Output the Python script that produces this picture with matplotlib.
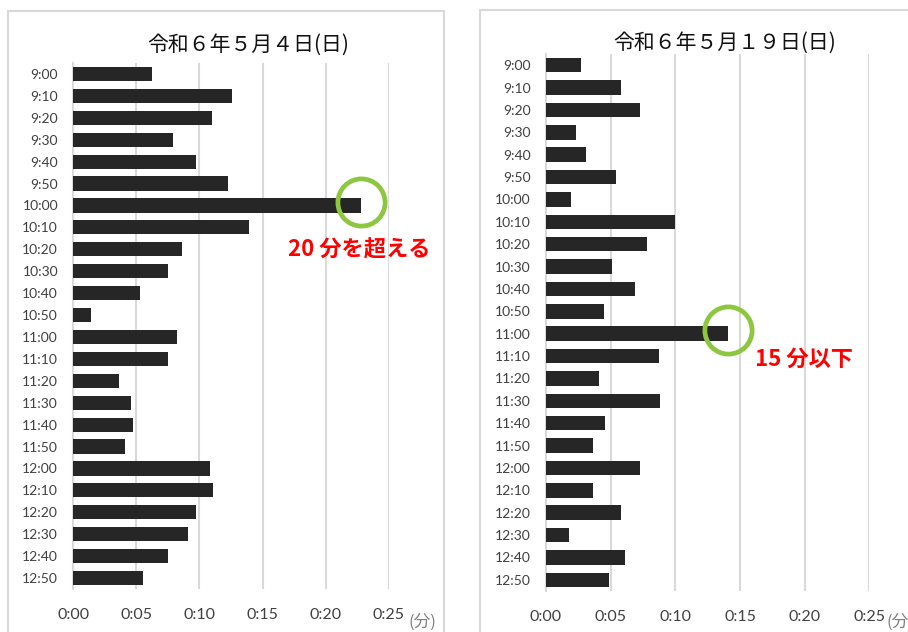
import matplotlib
matplotlib.use("Agg")
import matplotlib.pyplot as plt
from matplotlib.patches import Rectangle

plt.rcParams['font.family'] = ['Noto Sans CJK JP', 'DejaVu Sans']

times = ["9:00", "9:10", "9:20", "9:30", "9:40", "9:50",
         "10:00", "10:10", "10:20", "10:30", "10:40", "10:50",
         "11:00", "11:10", "11:20", "11:30", "11:40", "11:50",
         "12:00", "12:10", "12:20", "12:30", "12:40", "12:50"]

# waiting time in minutes
may4 = [6.2, 12.6, 11.0, 7.9, 9.7, 12.3,
        22.8, 13.9, 8.6, 7.5, 5.3, 1.4,
        8.2, 7.5, 3.6, 4.6, 4.7, 4.1,
        10.8, 11.1, 9.7, 9.1, 7.5, 5.5]
may19 = [2.7, 5.8, 7.3, 2.3, 3.1, 5.4,
         1.9, 10.0, 7.8, 5.1, 6.9, 4.5,
         14.1, 8.7, 4.1, 8.8, 4.6, 3.6,
         7.3, 3.6, 5.8, 1.8, 6.1, 4.9]

xticks = [0, 5, 10, 15, 20, 25]
xticklabels = ["0:00", "0:05", "0:10", "0:15", "0:20", "0:25"]

titles = ["令和６年５月４日(日)", "令和６年５月１９日(日)"]
notes = ["20 分を超える", "15 分以下"]
highlight = [6, 12]  # index of highlighted bar

W, H = 908, 632
fig = plt.figure(figsize=(W / 100, H / 100), dpi=100)
fig.patch.set_facecolor("white")

def px(x0, y0, x1, y1):
    return [x0 / W, 1 - y1 / H, (x1 - x0) / W, (y1 - y0) / H]

# panel frames
for (fx0, fy0, fx1, fy1) in [(8, 11, 444, 660), (480, 10, 940, 660)]:
    fig.add_artist(Rectangle((fx0 / W, 1 - fy1 / H), (fx1 - fx0) / W, (fy1 - fy0) / H,
                             transform=fig.transFigure, fill=False,
                             edgecolor="#d9d9d9", lw=1.5))

panels = [
    dict(rect=px(73.3, 63, 388.7, 589), data=may4, title_xy=(248, 45),
         note_xy=(288, 250), unit_xy=(409, 622)),
    dict(rect=px(546, 54, 869.3, 591), data=may19, title_xy=(725, 43),
         note_xy=(755, 359), unit_xy=(886, 622)),
]

for i, p in enumerate(panels):
    ax = fig.add_axes(p["rect"])
    y = list(range(len(times)))
    ax.barh(y, p["data"], height=0.65, color="#262626", zorder=3)
    ax.set_xlim(0, 25)
    ax.set_ylim(len(times) - 0.5, -0.5)
    ax.set_xticks(xticks)
    ax.set_xticklabels(xticklabels, family=['Lato', 'DejaVu Sans'], fontsize=11.5, color="#404040")
    ax.set_yticks(y)
    ax.set_yticklabels(times, family=['Lato', 'DejaVu Sans'], fontsize=10, color="#404040")
    ax.tick_params(axis='x', length=0, pad=14)
    ax.tick_params(axis='y', length=0, pad=11)
    ax.grid(axis='x', color="#d9d9d9", lw=1.5, zorder=0)
    for s in ["top", "right", "bottom"]:
        ax.spines[s].set_visible(False)
    ax.spines["left"].set_color("#d9d9d9")
    ax.spines["left"].set_linewidth(1.5)
    ax.spines["left"].set_zorder(0)
    ax.patch.set_alpha(0)

    h = highlight[i]
    ax.plot([p["data"][h]], [h - 0.15], marker="o", markersize=34, markerfacecolor="none",
            markeredgecolor="#8DC63F", markeredgewidth=3.4, clip_on=False, zorder=5)

    tx, ty = p["title_xy"]
    fig.text(tx / W, 1 - ty / H, titles[i], ha="center", va="center", fontsize=15, color="#111111")
    nx, ny = p["note_xy"]
    fig.text(nx / W, 1 - ny / H, notes[i], ha="left", va="center", fontsize=16,
             color="#ff0000", fontweight="bold",
             family=['Noto Sans CJK JP', 'DejaVu Sans'])
    ux, uy = p["unit_xy"]
    fig.text(ux / W, 1 - uy / H, "(分)", ha="left", va="center", fontsize=12, color="#7f7f7f")

fig.savefig("out.png", dpi=100, facecolor="white")
